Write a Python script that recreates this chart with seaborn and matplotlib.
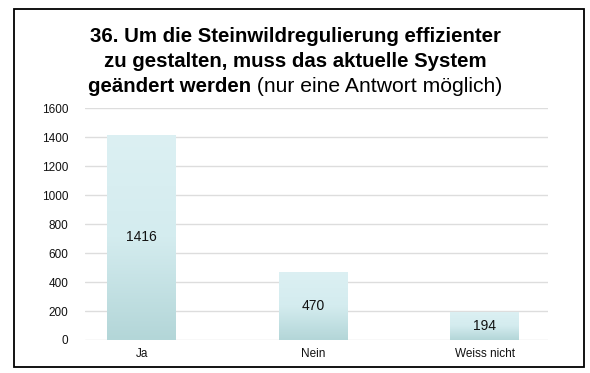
import numpy as np
import pandas as pd
import matplotlib
matplotlib.use("Agg")
import matplotlib.pyplot as plt
import seaborn as sns
from matplotlib.colors import LinearSegmentedColormap
from matplotlib.patches import Rectangle

categories = ["Ja", "Nein", "Weiss nicht"]
counts = [1416, 470, 194]
yticks = [0, 200, 400, 600, 800, 1000, 1200, 1400, 1600]

sns.set_theme(style="white")
plt.rcParams["font.family"] = ["Liberation Sans", "DejaVu Sans"]
plt.rcParams["text.color"] = "black"

df = pd.DataFrame({"answer": categories, "count": counts})

fig = plt.figure(figsize=(5.9, 3.73), dpi=100)
ax = fig.add_axes([0.144, 0.0885, 0.785, 0.6215])

sns.barplot(data=df, x="answer", y="count", color="#cde8eb", width=0.4,
            saturation=1, ax=ax)

# vertical gradient inside every bar
grad = LinearSegmentedColormap.from_list("g", ["#b3d6d8", "#d4ecef", "#dcf0f3"])
for p in ax.patches:
    x0, y0 = p.get_x(), p.get_y()
    w, h = p.get_width(), p.get_height()
    im = ax.imshow(np.linspace(0, 1, 256).reshape(-1, 1), cmap=grad,
                   aspect="auto", origin="lower",
                   extent=[x0, x0 + w, y0, y0 + h], zorder=2)
    im.set_clip_path(p)
    p.set_alpha(0)

for i, v in enumerate(counts):
    ax.text(i, v / 2, str(v), ha="center", va="center", fontsize=10, color="#111111", zorder=3)

ax.set_xlim(-0.33, 2.37)
ax.set_ylim(0, 1600)
ax.set_yticks(yticks)
ax.set_yticklabels([str(t) for t in yticks])
ax.yaxis.grid(True, color="#dddddd", linewidth=1)
ax.set_axisbelow(True)
for s in ax.spines.values():
    s.set_visible(False)
ax.tick_params(axis="both", length=0, labelsize=8.5, colors="#111111")
ax.tick_params(axis="y", pad=12)
ax.tick_params(axis="x", pad=6)
ax.set_xlabel("")
ax.set_ylabel("")

# title
fig.text(0.5, 1 - 42 / 373, "36. Um die Steinwildregulierung effizienter",
         ha="center", va="baseline", fontsize=14.7, fontweight="bold", color="black")
fig.text(0.5, 1 - 67 / 373, "zu gestalten, muss das aktuelle System",
         ha="center", va="baseline", fontsize=14.7, fontweight="bold", color="black")
t1 = fig.text(0, 1 - 92 / 373, "geändert werden", ha="left", va="baseline",
              fontsize=14.7, fontweight="bold", color="black")
t2 = fig.text(0, 1 - 92 / 373, " (nur eine Antwort möglich)", ha="left", va="baseline",
              fontsize=15.2, color="black")
r = fig.canvas.get_renderer()
w1 = t1.get_window_extent(r).width / fig.bbox.width
w2 = t2.get_window_extent(r).width / fig.bbox.width
start = 0.5 - (w1 + w2) / 2
t1.set_x(start)
t2.set_x(start + w1)

# outer frame
fig.patches.append(Rectangle((14 / 590, 1 - 367 / 373), 570 / 590, 358 / 373,
                             transform=fig.transFigure, fill=False,
                             edgecolor="black", linewidth=1.3))

fig.savefig("out.png", dpi=100)
